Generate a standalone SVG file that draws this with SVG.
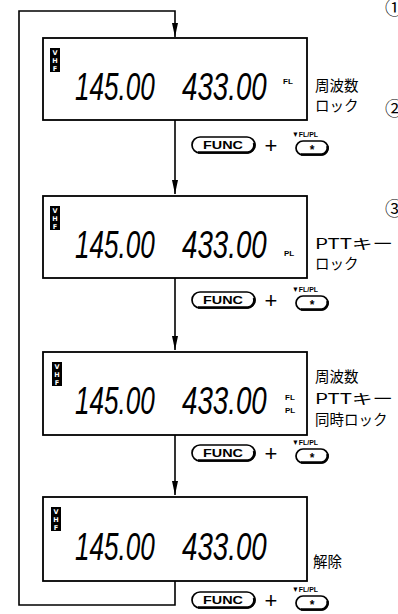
<svg xmlns="http://www.w3.org/2000/svg" width="398" height="614" viewBox="0 0 398 614">
<style>
.box{fill:#fff;stroke:#000;stroke-width:1.8}
.conn{fill:none;stroke:#000;stroke-width:1.6}
.badge{fill:#000}
.bl{fill:#fff;font-family:"DejaVu Sans",sans-serif;font-weight:bold;font-size:6.5px;text-anchor:middle}
.dig{font-family:"Liberation Sans",sans-serif;font-style:italic;font-size:39px;fill:#000}
.ind{font-family:"Liberation Sans",sans-serif;font-weight:bold;font-size:8px;fill:#000}
.lab{font-family:"Noto Sans CJK JP",sans-serif;font-size:14.5px;fill:#000}
.num{font-family:"Noto Sans CJK JP",sans-serif;font-size:19px;fill:#000}
.pill{fill:#fff;stroke:#000;stroke-width:1.7}
.shadow{fill:none;stroke:#000;stroke-width:2.6}
.func{font-family:"Liberation Sans",sans-serif;font-weight:bold;font-size:10px;fill:#000;text-anchor:middle}
.plus{font-family:"Liberation Sans",sans-serif;font-size:22px;fill:#000;text-anchor:middle}
.fl{font-family:"Liberation Sans",sans-serif;font-weight:bold;font-size:8px;fill:#000;text-anchor:middle}
.star{font-family:"Liberation Sans",sans-serif;font-weight:bold;font-size:12px;fill:#000;text-anchor:middle}
</style>
<defs>
<marker id="ah" viewBox="0 0 14 6" refX="14" refY="3" markerWidth="14" markerHeight="6" markerUnits="userSpaceOnUse" orient="auto">
<path d="M0,0 L14,3 L0,6 Z" fill="#000"/>
</marker>
<g id="btnset">
<rect class="pill" x="0" y="-8" width="63" height="16" rx="8"/>
<path class="shadow" d="M6,7.5 H56 A7.5,7.5 0 0 0 62,-2"/>
<text class="func" x="31" y="3.8" textLength="40" lengthAdjust="spacingAndGlyphs">FUNC</text>
<text class="plus" x="79" y="8">+</text>
<rect class="pill" x="104" y="-4" width="32" height="14" rx="7"/>
<path class="shadow" d="M109,9.5 H130 A7,7 0 0 0 135.5,1"/>
<text class="star" x="120" y="9">*</text>
<text class="fl" x="113" y="-8" textLength="26" lengthAdjust="spacingAndGlyphs">▼FL/PL</text>
</g>
<g id="digits">
<text class="dig" transform="translate(75,0) scale(0.67,1)" x="0" y="0">145.00</text>
<text class="dig" transform="translate(182,0) scale(0.71,1)" x="0" y="0">433.00</text>
</g>
</defs>

<g id="connectors">
<path class="conn" d="M175,581 V605 H19 V11 H175 V37" marker-end="url(#ah)"/>
<path class="conn" d="M175,120 V194" marker-end="url(#ah)"/>
<path class="conn" d="M175,278 V350" marker-end="url(#ah)"/>
<path class="conn" d="M175,435 V495" marker-end="url(#ah)"/>
</g>

<g id="display1">
<rect class="box" x="43" y="38" width="264" height="82"/>
<rect class="badge" x="50" y="48" width="10" height="24"/>
<text class="bl" x="55" y="55">V</text><text class="bl" x="55" y="63">H</text><text class="bl" x="55" y="71">F</text>
<use href="#digits" y="100"/>
<text class="ind" x="283" y="84">FL</text>
</g>
<g id="label1">
<text class="lab" x="315" y="91">周波数</text>
<text class="lab" x="315" y="111">ロック</text>
</g>

<g id="display2">
<rect class="box" x="43" y="196" width="264" height="82"/>
<rect class="badge" x="50" y="206" width="10" height="24"/>
<text class="bl" x="55" y="213">V</text><text class="bl" x="55" y="221">H</text><text class="bl" x="55" y="229">F</text>
<use href="#digits" y="258"/>
<text class="ind" x="284" y="256">PL</text>
</g>
<g id="label2">
<text class="lab" x="315" y="249" textLength="78" lengthAdjust="spacingAndGlyphs">PTTキー</text>
<text class="lab" x="315" y="269">ロック</text>
</g>

<g id="display3">
<rect class="box" x="43" y="352" width="264" height="83"/>
<rect class="badge" x="52" y="362" width="10" height="24"/>
<text class="bl" x="57" y="369">V</text><text class="bl" x="57" y="377">H</text><text class="bl" x="57" y="385">F</text>
<use href="#digits" y="414"/>
<text class="ind" x="285" y="400">FL</text>
<text class="ind" x="285" y="413">PL</text>
</g>
<g id="label3">
<text class="lab" x="315" y="382">周波数</text>
<text class="lab" x="315" y="404" textLength="78" lengthAdjust="spacingAndGlyphs">PTTキー</text>
<text class="lab" x="315" y="425">同時ロック</text>
</g>

<g id="display4">
<rect class="box" x="43" y="497" width="264" height="84"/>
<rect class="badge" x="51" y="507" width="10" height="24"/>
<text class="bl" x="56" y="514">V</text><text class="bl" x="56" y="522">H</text><text class="bl" x="56" y="530">F</text>
<use href="#digits" y="560"/>
</g>
<g id="label4">
<text class="lab" x="313" y="567">解除</text>
</g>

<g id="buttons1"><use href="#btnset" x="192" y="145"/></g>
<g id="buttons2"><use href="#btnset" x="192" y="300"/></g>
<g id="buttons3"><use href="#btnset" x="192" y="453"/></g>
<g id="buttons4"><use href="#btnset" x="192" y="600"/></g>

<g id="steps">
<text class="num" x="385" y="15">①</text>
<text class="num" x="385" y="116">②</text>
<text class="num" x="385" y="216">③</text>
</g>
</svg>
